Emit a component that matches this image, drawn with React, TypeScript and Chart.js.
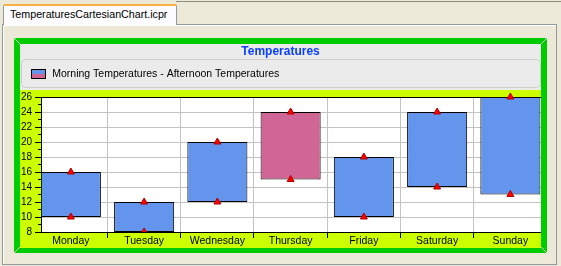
import React, { useEffect, useRef } from 'react';
import { Chart, registerables } from 'chart.js';

Chart.register(...registerables);

// ---- data ----
const DAYS: string[] = ['Monday', 'Tuesday', 'Wednesday', 'Thursday', 'Friday', 'Saturday', 'Sunday'];
const MORNING: number[] = [10, 8, 12, 24, 10, 14, 13];
const AFTERNOON: number[] = [16, 12, 20, 15, 18, 24, 26];
const Y_MIN = 8;
const Y_MAX = 26;
const Y_MAJOR_STEP = 2;
const Y_MINOR_STEP = 1;
const CHART_TITLE = 'Temperatures';
const LEGEND_TEXT = 'Morning Temperatures - Afternoon Temperatures';
const TAB_TEXT = 'TemperaturesCartesianChart.icpr';

// ---- styles ----
const FONT = "'Liberation Sans', Arial, sans-serif";
const RISE = '#6495ED';
const FALL = '#CF6695';
const GRID = '#C3C3C3';
const HEADER_H = 46;
const CW = 521;
const CH = 204;

const backdropPlugin = {
  id: 'backdrop',
  beforeDraw(chart: any) {
    const { ctx, width, height, chartArea: a } = chart;
    ctx.save();
    ctx.fillStyle = '#EBEBEB';
    ctx.fillRect(0, 0, width, HEADER_H);
    ctx.fillStyle = '#CCFF00';
    ctx.fillRect(0, HEADER_H, width, height - HEADER_H);
    ctx.beginPath();
    if (ctx.roundRect) ctx.roundRect(1.5, 15.5, width - 2, 28, 4);
    else ctx.rect(1.5, 15.5, width - 2, 28);
    ctx.fillStyle = '#EBEBEB';
    ctx.fill();
    ctx.strokeStyle = '#CFCFC8';
    ctx.lineWidth = 1;
    ctx.stroke();
    ctx.fillStyle = '#FFFFFF';
    ctx.fillRect(a.left, a.top, a.right - a.left, a.bottom - a.top);
    ctx.restore();
  },
  afterDraw(chart: any) {
    const { ctx, chartArea: a } = chart;
    const ys = chart.scales.y;
    ctx.save();
    ctx.strokeStyle = '#000';
    ctx.lineWidth = 1;
    ctx.beginPath();
    for (let v = Y_MIN; v <= Y_MAX; v += Y_MINOR_STEP) {
      if ((v - Y_MIN) % Y_MAJOR_STEP === 0) continue;
      const p = Math.round(ys.getPixelForValue(v) - 0.5) + 0.5;
      ctx.moveTo(a.left - 3, p);
      ctx.lineTo(a.left, p);
    }
    ctx.stroke();
    ctx.restore();
  },
};

function makeIcon(): HTMLCanvasElement {
  const c = document.createElement('canvas');
  c.width = 15;
  c.height = 10;
  const g = c.getContext('2d')!;
  g.fillStyle = '#000';
  g.fillRect(0, 0, 15, 10);
  g.fillStyle = RISE;
  g.fillRect(1, 1, 13, 4);
  g.fillStyle = FALL;
  g.fillRect(1, 5, 13, 4);
  return c;
}

function TemperatureChart() {
  const ref = useRef<HTMLCanvasElement | null>(null);

  useEffect(() => {
    if (!ref.current) return;
    const icon = makeIcon();
    const pointCommon = {
      type: 'line' as const,
      showLine: false,
      pointStyle: 'triangle',
      pointRadius: 4,
      pointHoverRadius: 4,
      pointBackgroundColor: '#FF0000',
      pointBorderColor: '#B00000',
      pointBorderWidth: 1,
      xAxisID: 'x',
      yAxisID: 'y',
      order: 1,
      clip: { left: false, top: false, right: false, bottom: 0 },
    };
    const chart = new Chart(ref.current, {
      type: 'bar',
      data: {
        datasets: [
          {
            ...pointCommon,
            label: 'Morning Temperatures',
            data: MORNING.map((v, i) => ({ x: i, y: v })),
          } as any,
          {
            ...pointCommon,
            label: 'Afternoon Temperatures',
            data: AFTERNOON.map((v, i) => ({ x: i, y: v })),
          } as any,
          {
            type: 'bar',
            label: LEGEND_TEXT,
            data: DAYS.map((_, i) => ({ x: i, y: [MORNING[i], AFTERNOON[i]] })),
            backgroundColor: MORNING.map((m, i) => (m <= AFTERNOON[i] ? RISE : FALL)),
            borderColor: '#000',
            borderWidth: 1,
            borderSkipped: false,
            barPercentage: 0.82,
            categoryPercentage: 1,
            xAxisID: 'x',
            yAxisID: 'y',
            order: 2,
          } as any,
        ],
      },
      options: {
        responsive: false,
        animation: false,
        devicePixelRatio: 1,
        events: [],
        layout: { padding: 0, autoPadding: false },
        font: { family: FONT },
        plugins: {
          title: {
            display: true,
            text: CHART_TITLE,
            color: '#0A40FF',
            font: { family: FONT, size: 12, weight: 'bold' },
            padding: { top: 0, bottom: 0.35 },
          },
          legend: {
            display: true,
            position: 'top',
            align: 'start',
            labels: {
              usePointStyle: true,
              pointStyleWidth: 17,
              padding: 10,
              color: '#000',
              font: { family: FONT, size: 10.5 },
              generateLabels: () => [
                {
                  text: LEGEND_TEXT,
                  pointStyle: icon,
                  fillStyle: RISE,
                  strokeStyle: '#000',
                  lineWidth: 0,
                  hidden: false,
                  datasetIndex: 2,
                } as any,
              ],
            },
          },
          tooltip: { enabled: false },
        },
        scales: {
          x: {
            type: 'linear',
            position: 'bottom',
            min: -0.4078,
            max: 6.4181,
            offset: false,
            bounds: 'data',
            afterBuildTicks: (s: any) => {
              s.ticks = DAYS.map((_, i) => ({ value: i }));
            },
            afterFit: (s: any) => {
              s.height = 16;
            },
            grid: { offset: true, color: GRID, tickColor: '#000', tickLength: 6, lineWidth: 1 },
            border: { display: true, color: '#000', width: 1 },
            ticks: {
              padding: -3,
              color: '#000',
              autoSkip: false,
              maxRotation: 0,
              minRotation: 0,
              font: { family: FONT, size: 10.5 },
              callback: (v: any) => DAYS[Number(v)] ?? '',
            },
          },
          y: {
            type: 'linear',
            position: 'left',
            min: Y_MIN,
            max: Y_MAX,
            afterFit: (s: any) => {
              s.width = 21;
            },
            grid: {
              color: (c: any) => (c.tick && c.tick.value === Y_MAX ? '#000' : GRID),
              tickColor: '#000',
              tickLength: 6,
              lineWidth: 1,
            },
            border: { display: true, color: '#000', width: 1 },
            ticks: {
              stepSize: Y_MAJOR_STEP,
              padding: 3,
              color: '#000',
              autoSkip: false,
              font: { family: FONT, size: 10 },
            },
          },
          spacer: {
            type: 'linear',
            position: 'top',
            axis: 'x',
            display: true,
            afterFit: (s: any) => {
              s.height = 7.75;
            },
            grid: { display: false, drawTicks: false },
            border: { display: false },
            ticks: { display: false },
          },
        },
      } as any,
      plugins: [backdropPlugin],
    });
    return () => chart.destroy();
  }, []);

  return <canvas ref={ref} width={CW} height={CH} style={{ display: 'block', width: CW, height: CH }} />;
}

const corner = (left: number, top: number, deg: number): React.CSSProperties => ({
  position: 'absolute',
  left,
  top,
  width: 6,
  height: 6,
  background: `linear-gradient(${deg}deg, transparent 42%, rgba(255,255,255,0.85) 42%, rgba(255,255,255,0.85) 58%, transparent 58%)`,
});

export default function App() {
  return (
    <div
      style={{
        position: 'fixed',
        left: 0,
        top: 0,
        width: 561,
        height: 266,
        background: '#ECE9D8',
        overflow: 'hidden',
        fontFamily: FONT,
      }}
    >
      <div style={{ position: 'absolute', left: 176, top: 1, width: 385, height: 1, background: '#8F8B80' }} />
      <div
        style={{
          position: 'absolute',
          left: 2,
          top: 24,
          width: 553,
          height: 239,
          border: '1px solid #919B9C',
          boxShadow: 'inset 1px 1px 0 #FFFFFF',
        }}
      />
      <div
        style={{
          position: 'absolute',
          left: 3,
          top: 4,
          height: 19,
          background: '#FCFCFE',
          borderLeft: '1px solid #919B9C',
          borderRight: '1px solid #919B9C',
          borderTop: '2px solid #F8B040',
          borderTopLeftRadius: 2,
          borderTopRightRadius: 2,
          fontSize: 10.7,
          lineHeight: '17px',
          paddingLeft: 6,
          boxSizing: 'content-box',
          color: '#000',
          whiteSpace: 'nowrap',
          width: 166,
        } as React.CSSProperties}
      >
        {TAB_TEXT}
      </div>
      <div
        style={{
          position: 'absolute',
          left: 14,
          top: 38,
          width: CW,
          height: CH,
          borderStyle: 'solid',
          borderColor: '#00CC00',
          borderWidth: '6px 6px 5px 6px',
        }}
      >
        <TemperatureChart />
      </div>
      <div style={corner(14, 38, 45)} />
      <div style={corner(541, 38, 135)} />
      <div style={corner(14, 247, 135)} />
      <div style={corner(541, 247, 45)} />
    </div>
  );
}
